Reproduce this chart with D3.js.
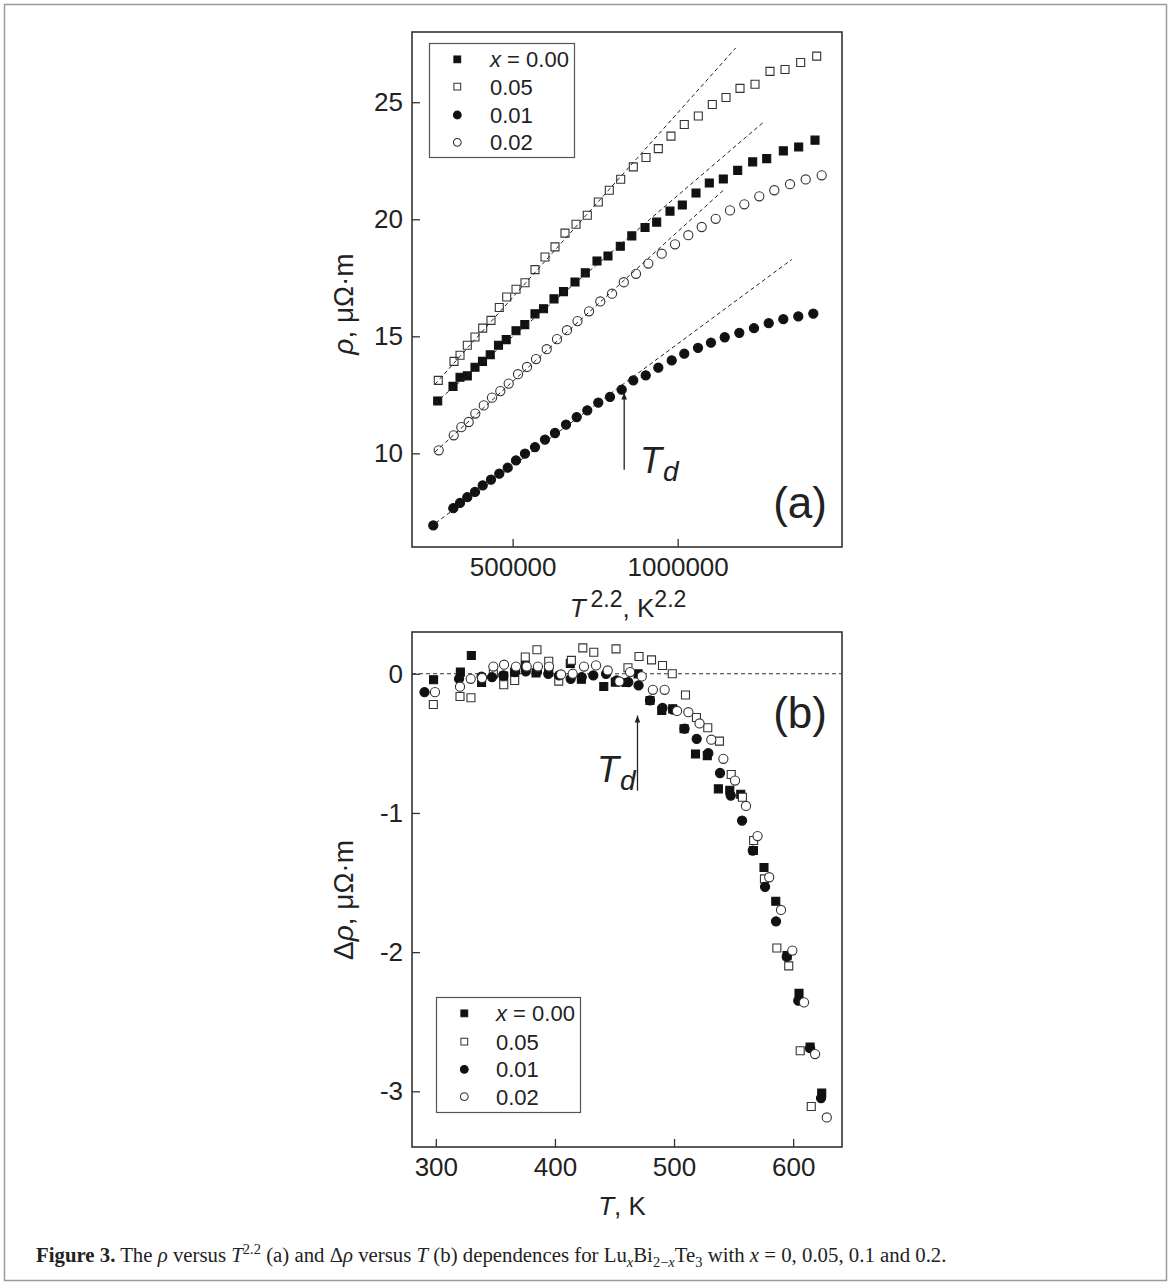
<!DOCTYPE html>
<html><head><meta charset="utf-8">
<script src="https://cdn.jsdelivr.net/npm/d3@7"></script>
<style>body{margin:0;background:#fff}text{fill:#222}</style>
</head><body>
<script>
// ---------- Panel (a): rho vs T^2.2 ----------
const seriesNames = ["x = 0.00", "0.05", "0.01", "0.02"];
const rhoX_000 = [272900,319200,340500,362600,385900,408600,432000,457100,480500,510200,536800,567700,593500,625300,654100,688900,720100,755600,788900,826200,861100,901100,936500,976800,1014100,1055600,1095900,1138300,1182000,1227400,1269900,1320200,1366800,1416200];
const rhoY_000 = [12.24,12.86,13.25,13.31,13.68,13.93,14.21,14.62,14.86,15.24,15.50,15.96,16.18,16.60,16.91,17.32,17.71,18.22,18.43,18.85,19.29,19.65,19.88,20.35,20.61,21.12,21.55,21.72,22.09,22.45,22.59,22.92,23.09,23.38];
const rhoX_005 = [274700,322300,340500,362600,385900,409200,434400,459500,482000,510200,537400,567700,598000,628300,658600,692000,726200,759500,792900,827400,865600,904100,941400,979800,1020100,1062600,1105000,1146500,1188900,1234400,1279800,1325300,1372800,1421300];
const rhoY_005 = [13.12,13.93,14.19,14.62,14.97,15.35,15.68,16.23,16.68,17.01,17.29,17.85,18.39,18.82,19.41,19.79,20.17,20.74,21.24,21.71,22.24,22.64,23.02,23.55,24.05,24.41,24.90,25.20,25.59,25.77,26.32,26.40,26.70,26.97];
const rhoX_001 = [259500,320200,340500,362600,385900,409200,434400,459500,485000,510200,537400,567700,598000,628300,661700,694100,726200,759500,795000,830400,865600,903200,941400,982000,1020100,1061700,1101000,1142600,1186800,1231300,1275900,1320200,1365600,1411100];
const rhoY_001 = [6.92,7.66,7.88,8.13,8.35,8.63,8.88,9.13,9.39,9.70,9.99,10.27,10.59,10.87,11.23,11.55,11.84,12.17,12.41,12.72,13.12,13.33,13.66,13.97,14.26,14.51,14.73,14.96,15.15,15.35,15.56,15.73,15.85,15.97];
const rhoX_002 = [275900,321400,344400,366800,386800,412300,437400,462600,488000,516200,543500,570800,603200,634400,664700,696500,731400,765600,801100,836800,873800,911100,951700,992000,1032300,1072900,1115300,1158600,1202000,1247400,1292900,1340500,1388000,1436500];
const rhoY_002 = [10.13,10.77,11.12,11.34,11.70,12.05,12.38,12.66,12.98,13.38,13.69,14.03,14.45,14.88,15.26,15.65,16.07,16.49,16.82,17.31,17.67,18.11,18.53,18.93,19.32,19.67,20.02,20.38,20.64,20.98,21.24,21.50,21.70,21.88];
// linear fits (end points)
const fitX_000 = [264700, 1257700], fitY_000 = [12.15, 24.12];
const fitX_005 = [264700, 1175900], fitY_005 = [12.95, 27.32];
const fitX_001 = [249500, 1345600], fitY_001 = [6.85, 18.28];
const fitX_002 = [264700, 1138300], fitY_002 = [10.06, 21.24];
const topXDomain = [195000, 1498000], topYDomain = [6, 28];
const topXTicks = [500000, 1000000], topYTicks = [10, 15, 20, 25];
const tdArrowA = [838000, 12.6, 9.3]; // x, tip, tail

// ---------- Panel (b): delta rho vs T ----------
const dT_000 = [298.1,320.6,329.8,338.4,357.0,366.2,375.1,384.1,394.8,412.9,422.2,441.0,450.7,459.7,469.8,479.8,489.7,498.9,508.4,518.0,527.9,537.2,546.8,556.0,566.6,575.5,585.4,594.9,604.9,614.2,624.0];
const dR_000 = [-0.043,0.012,0.131,-0.063,-0.016,0.012,0.060,0.006,0.012,0.074,-0.040,-0.092,-0.060,-0.063,-0.001,-0.192,-0.264,-0.252,-0.395,-0.576,-0.588,-0.827,-0.837,-0.866,-1.270,-1.392,-1.634,-2.025,-2.296,-2.682,-3.012];
const dT_005 = [297.9,320.3,329.5,348.3,357.0,366.2,375.1,384.9,394.8,403.2,413.8,423.4,432.6,451.3,461.3,470.6,481.1,490.3,498.5,509.6,518.8,528.3,538.1,548.0,557.4,566.8,575.9,586.3,596.3,605.9,615.2];
const dR_005 = [-0.221,-0.163,-0.172,0.000,-0.079,-0.048,0.120,0.172,0.090,-0.053,0.096,0.186,0.155,0.179,0.043,0.124,0.100,0.059,0.000,-0.153,-0.314,-0.388,-0.484,-0.724,-0.887,-1.198,-1.474,-1.970,-2.099,-2.708,-3.109];
const dT_001 = [290.5,319.5,338.4,347.2,356.7,366.5,375.5,384.9,394.4,403.4,413.2,422.5,432.2,442.9,451.9,461.6,470.2,479.8,490.3,499.1,508.8,519.0,528.8,538.6,547.6,557.1,566.1,576.4,585.6,594.6,604.3,614.2,623.4];
const dR_001 = [-0.132,-0.036,-0.020,-0.024,-0.012,0.012,0.017,0.013,0.000,-0.012,-0.036,-0.024,-0.012,0.000,-0.048,-0.060,-0.084,-0.192,-0.246,-0.257,-0.395,-0.467,-0.571,-0.713,-0.875,-1.055,-1.270,-1.531,-1.779,-2.032,-2.349,-2.689,-3.048];
const dT_002 = [299.3,320.3,329.3,338.8,348.3,357.3,367.3,376.3,385.7,395.0,405.1,414.9,424.4,434.5,444.3,454.1,463.1,472.9,482.2,492.1,502.5,512.0,521.4,531.3,541.4,551.2,560.4,570.1,579.9,589.8,599.3,609.1,618.4,628.2];
const dR_002 = [-0.132,-0.093,-0.036,-0.030,0.052,0.065,0.052,0.052,0.052,0.052,-0.005,0.000,0.052,0.060,0.024,-0.055,0.012,-0.019,-0.115,-0.115,-0.267,-0.276,-0.357,-0.474,-0.611,-0.767,-0.950,-1.166,-1.462,-1.697,-1.989,-2.361,-2.732,-3.188];
const botXDomain = [280, 641], botYDomain = [-3.4, 0.3];
const botXTicks = [300, 400, 500, 600], botYTicks = [0, -1, -2, -3];
const tdArrowB = [469.3, -0.3, -0.84];

// ---------- drawing ----------
const W = 1171, H = 1285;
const FONT = "'Liberation Sans', Arial, sans-serif";
const INK = "#222";
const svg = d3.select("body").append("svg").attr("width", W).attr("height", H)
  .style("font-family", FONT);

svg.append("rect").attr("x", 4.5).attr("y", 4.5).attr("width", W - 9).attr("height", H - 9)
  .attr("fill", "none").attr("stroke", "#9a9a9a").attr("stroke-width", 1.5);

svg.append("defs").append("marker").attr("id", "arr").attr("viewBox", "0 0 10 10")
  .attr("refX", 10).attr("refY", 5).attr("markerWidth", 7).attr("markerHeight", 7)
  .attr("markerUnits", "userSpaceOnUse").attr("orient", "auto")
  .append("path").attr("d", "M0,1 L10,5 L0,9 Z").attr("fill", INK);

const sqr = d3.symbol(d3.symbolSquare, 64)();
const circ = d3.symbol(d3.symbolCircle, 66)();
const styles = [
  {path: sqr, fill: "#111", stroke: "#111"},
  {path: sqr, fill: "#fff", stroke: "#333"},
  {path: circ, fill: "#111", stroke: "#111"},
  {path: circ, fill: "#fff", stroke: "#333"}
];

function frame(xs, ys, xt, yt, fmtX) {
  const g = svg.append("g");
  const ax = g.append("g").attr("transform", `translate(0,${ys.range()[0]})`)
    .call(d3.axisBottom(xs).tickValues(xt).tickSizeInner(-8).tickSizeOuter(0).tickPadding(11).tickFormat(fmtX));
  const ay = g.append("g").attr("transform", `translate(${xs.range()[0]},0)`)
    .call(d3.axisLeft(ys).tickValues(yt).tickSizeInner(-8).tickSizeOuter(0).tickPadding(9).tickFormat(d => String(d)));
  [ax, ay].forEach(a => {
    a.select(".domain").remove();
    a.selectAll("line").attr("stroke", "#333").attr("stroke-width", 1.3);
    a.selectAll("text").attr("font-size", 26).attr("font-family", FONT).attr("fill", INK);
  });
  g.append("rect").attr("x", xs.range()[0]).attr("y", ys.range()[1])
    .attr("width", xs.range()[1] - xs.range()[0]).attr("height", ys.range()[0] - ys.range()[1])
    .attr("fill", "none").attr("stroke", "#333").attr("stroke-width", 1.6);
}

function points(xs, ys, X, Y, st, openFill) {
  svg.append("g").selectAll("path").data(X.map((x, i) => [x, Y[i]])).join("path")
    .attr("d", st.path)
    .attr("transform", d => `translate(${xs(d[0])},${ys(d[1])})`)
    .attr("fill", st.fill === "#fff" ? openFill : st.fill)
    .attr("stroke", st.stroke).attr("stroke-width", 1.1);
}

function legend(x0, y0, w, h, sx, tx, rows) {
  const g = svg.append("g");
  g.append("rect").attr("x", x0).attr("y", y0).attr("width", w).attr("height", h)
    .attr("fill", "#fff").attr("stroke", "#555").attr("stroke-width", 1.2);
  seriesNames.forEach((n, i) => {
    const st = styles[i];
    g.append("path").attr("d", st.path).attr("transform", `translate(${sx},${rows[i]}) scale(0.85)`)
      .attr("fill", st.fill).attr("stroke", st.stroke).attr("stroke-width", 1.2);
    const t = g.append("text").attr("x", tx).attr("y", rows[i] + 8).attr("font-size", 22).style("white-space", "pre");
    if (i === 0) {
      t.append("tspan").attr("font-style", "italic").text("x");
      t.append("tspan").text(" = 0.00");
    } else t.text(n);
  });
}

// ---- Panel (a)
const xa = d3.scaleLinear().domain(topXDomain).range([412, 842]);
const ya = d3.scaleLinear().domain(topYDomain).range([547, 32]);
const topX = [rhoX_000, rhoX_005, rhoX_001, rhoX_002];
const topY = [rhoY_000, rhoY_005, rhoY_001, rhoY_002];
[0, 1, 2, 3].forEach(i => points(xa, ya, topX[i], topY[i], styles[i], "none"));
const fits = [[fitX_000, fitY_000], [fitX_005, fitY_005], [fitX_001, fitY_001], [fitX_002, fitY_002]];
const line = d3.line().x(d => xa(d[0])).y(d => ya(d[1]));
fits.forEach(f => {
  svg.append("path").attr("d", line(f[0].map((x, i) => [x, f[1][i]])))
    .attr("fill", "none").attr("stroke", "#222").attr("stroke-width", 1).attr("stroke-dasharray", "4,3");
});
frame(xa, ya, topXTicks, topYTicks, d3.format("d"));
legend(429.5, 43.5, 145, 114, 457.3, 490, [59.3, 86.7, 115, 142.3]);

svg.append("line").attr("x1", xa(tdArrowA[0])).attr("x2", xa(tdArrowA[0]))
  .attr("y1", ya(tdArrowA[2])).attr("y2", ya(tdArrowA[1]))
  .attr("stroke", INK).attr("stroke-width", 1.3).attr("marker-end", "url(#arr)");
const tdA = svg.append("text").attr("x", 640).attr("y", 473).attr("font-size", 36).attr("font-style", "italic");
tdA.append("tspan").text("T");
tdA.append("tspan").attr("font-size", 28).attr("dy", 8).attr("dx", 1).text("d");
svg.append("text").attr("x", 827).attr("y", 518).attr("text-anchor", "end").attr("font-size", 44).text("(a)");

const xta = svg.append("text").attr("x", 628).attr("y", 617).attr("text-anchor", "middle").attr("font-size", 26).style("white-space", "pre");
xta.append("tspan").attr("font-style", "italic").text("T");
xta.append("tspan").attr("font-size", 23).attr("dy", -10).attr("dx", 5).text("2.2");
xta.append("tspan").attr("dy", 10).text(", K");
xta.append("tspan").attr("font-size", 23).attr("dy", -10).text("2.2");

const yta = svg.append("text").attr("transform", "translate(353,304) rotate(-90)")
  .attr("text-anchor", "middle").attr("font-size", 28).style("white-space", "pre");
yta.append("tspan").attr("font-style", "italic").text("ρ");
yta.append("tspan").text(", μΩ·m");

// ---- Panel (b)
const xb = d3.scaleLinear().domain(botXDomain).range([412, 842]);
const yb = d3.scaleLinear().domain(botYDomain).range([1147, 632]);
svg.append("line").attr("x1", 412).attr("x2", 842).attr("y1", yb(0)).attr("y2", yb(0))
  .attr("stroke", "#333").attr("stroke-width", 1).attr("stroke-dasharray", "4,3");
const botX = [dT_000, dT_005, dT_001, dT_002];
const botY = [dR_000, dR_005, dR_001, dR_002];
[0, 1, 2, 3].forEach(i => points(xb, yb, botX[i], botY[i], styles[i], "#fff"));
frame(xb, yb, botXTicks, botYTicks, d => String(d));
legend(436.5, 997.5, 144, 115, 464.3, 496, [1013.3, 1041.7, 1069.3, 1096.7]);

svg.append("line").attr("x1", xb(tdArrowB[0])).attr("x2", xb(tdArrowB[0]))
  .attr("y1", yb(tdArrowB[2])).attr("y2", yb(tdArrowB[1]))
  .attr("stroke", INK).attr("stroke-width", 1.3).attr("marker-end", "url(#arr)");
const tdB = svg.append("text").attr("x", 597).attr("y", 782).attr("font-size", 36).attr("font-style", "italic");
tdB.append("tspan").text("T");
tdB.append("tspan").attr("font-size", 28).attr("dy", 8).attr("dx", 1).text("d");
svg.append("text").attr("x", 827).attr("y", 728).attr("text-anchor", "end").attr("font-size", 44).text("(b)");

const xtb = svg.append("text").attr("x", 622).attr("y", 1215).attr("text-anchor", "middle").attr("font-size", 26).style("white-space", "pre");
xtb.append("tspan").attr("font-style", "italic").text("T");
xtb.append("tspan").text(", K");

const ytb = svg.append("text").attr("transform", "translate(353,900) rotate(-90)")
  .attr("text-anchor", "middle").attr("font-size", 28).style("white-space", "pre");
ytb.append("tspan").text("Δ");
ytb.append("tspan").attr("font-style", "italic").text("ρ");
ytb.append("tspan").text(", μΩ·m");

// ---- Caption
const cap = svg.append("text").attr("x", 36).attr("y", 1262).attr("font-size", 20.8)
  .attr("font-family", "'Liberation Serif', 'Times New Roman', serif").attr("fill", "#111").style("white-space", "pre");
const parts = [
  ["Figure 3.", {b: 1}], [" The "], ["ρ", {i: 1}], [" versus "], ["T", {i: 1}], ["2.2", {sup: 1}],
  [" (a) and Δ"], ["ρ", {i: 1}], [" versus "], ["T", {i: 1}], [" (b) dependences for Lu"],
  ["x", {i: 1, sub: 1}], ["Bi"], ["2−", {sub: 1}], ["x", {i: 1, sub: 1}], ["Te"], ["3", {sub: 1}],
  [" with "], ["x", {i: 1}], [" = 0, 0.05, 0.1 and 0.2."]
];
let shift = 0;
parts.forEach(([t, o]) => {
  o = o || {};
  const target = o.sup ? -8 : o.sub ? 5 : 0;
  const ts = cap.append("tspan").text(t).attr("dy", target - shift);
  shift = target;
  if (o.b) ts.attr("font-weight", "bold");
  if (o.i) ts.attr("font-style", "italic");
  if (o.sup || o.sub) ts.attr("font-size", 14.5);
});
</script>
</body></html>
